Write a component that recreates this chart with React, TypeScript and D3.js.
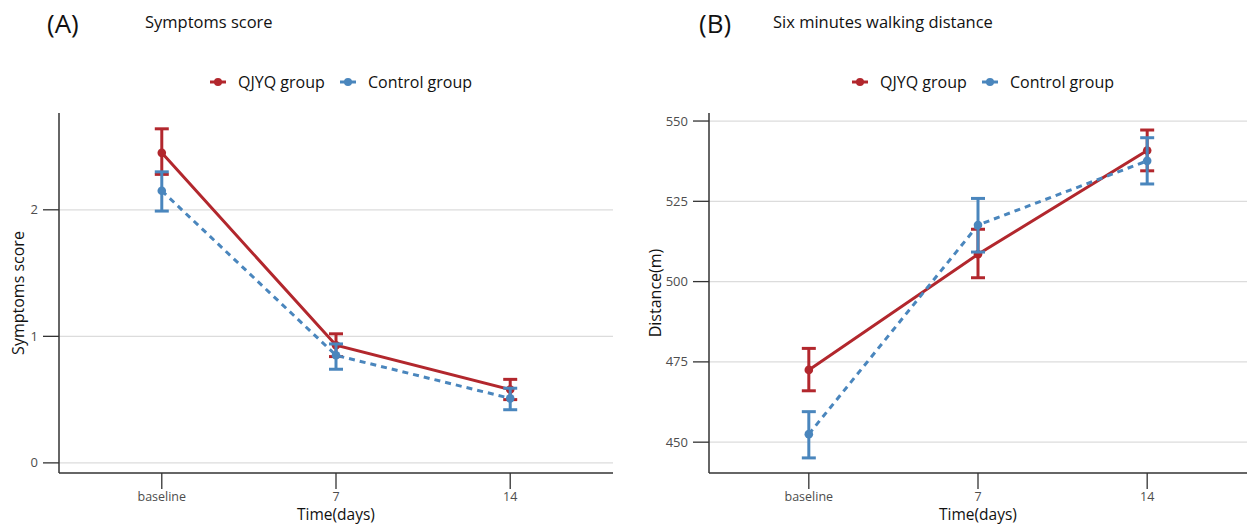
import * as d3 from 'd3';

const timepoints = ['baseline', '7', '14'];

// (A) symptoms score
const scoreQJYQ = [2.45, 0.93, 0.58];
const scoreQJYQLow = [2.28, 0.84, 0.50];
const scoreQJYQHigh = [2.64, 1.02, 0.66];
const scoreCtrl = [2.15, 0.85, 0.51];
const scoreCtrlLow = [1.99, 0.74, 0.42];
const scoreCtrlHigh = [2.30, 0.94, 0.59];
const scoreTicks = [0, 1, 2];

// (B) six minutes walking distance
const distQJYQ = [472.5, 508.5, 540.8];
const distQJYQLow = [466.0, 501.2, 534.5];
const distQJYQHigh = [479.2, 516.3, 547.2];
const distCtrl = [452.5, 517.6, 537.6];
const distCtrlLow = [445.1, 509.2, 530.4];
const distCtrlHigh = [459.5, 525.9, 544.8];
const distTicks = [450, 475, 500, 525, 550];

const groups = ['QJYQ group', 'Control group'];
const RED = '#b2272d';
const BLUE = '#4a86bd';
const FONT = '"Open Sans", sans-serif';

type Series = { mean: number[]; low: number[]; high: number[]; color: string; dashed: boolean };

function Panel(props: {
  left: number; right: number; tag: string; tagX: number; title: string; titleX: number;
  ylab: string; ylabX: number; domain: [number, number]; ticks: number[]; series: Series[];
}) {
  const { left, right, tag, tagX, title, titleX, ylab, ylabX, domain, ticks, series } = props;
  const top = 113, bottom = 473;
  const x = d3.scalePoint<string>().domain(timepoints).range([left, right]).padding(0.59);
  const y = d3.scaleLinear().domain(domain).range([bottom, top]);
  const cx = (left + right) / 2;
  const line = d3.line<number>().x((_, i) => x(timepoints[i])!).y((d) => y(d));

  return (
    <g fontFamily={FONT}>
      <text x={tagX} y={33} fontSize={26} fill="#111">{tag}</text>
      <text x={titleX} y={28} fontSize={16.5} fill="#111">{title}</text>

      {/* legend */}
      {groups.map((g, i) => {
        const mx = cx + (i === 0 ? -118 : 12);
        return (
          <g key={g}>
            <line x1={mx - 8} x2={mx + 8} y1={82} y2={82} stroke={series[i].color} strokeWidth={3} />
            <circle cx={mx} cy={82} r={4} fill={series[i].color} />
            <text x={mx + 20} y={88} fontSize={16} fill="#111">{g}</text>
          </g>
        );
      })}

      {/* grid + y axis */}
      {ticks.map((t) => (
        <g key={t}>
          <line x1={left} x2={right} y1={y(t)} y2={y(t)} stroke="#dcdcdc" strokeWidth={1.2} />
          <line x1={left - 16} x2={left} y1={y(t)} y2={y(t)} stroke="#333" strokeWidth={1.3} />
          <text x={left - 21} y={y(t) + 4.5} textAnchor="end" fontSize={13} fill="#4d4d4d">{t}</text>
        </g>
      ))}
      <line x1={left} x2={left} y1={top} y2={bottom} stroke="#333" strokeWidth={1.5} />
      <line x1={left} x2={right} y1={bottom} y2={bottom} stroke="#333" strokeWidth={1.5} />
      {timepoints.map((t) => (
        <g key={t}>
          <line x1={x(t)} x2={x(t)} y1={bottom} y2={bottom + 16} stroke="#333" strokeWidth={1.3} />
          <text x={x(t)} y={bottom + 28} textAnchor="middle" fontSize={12.5} fill="#4d4d4d">{t}</text>
        </g>
      ))}
      <text x={cx} y={520} textAnchor="middle" fontSize={15.5} fill="#111">Time(days)</text>
      <text transform={`translate(${ylabX},${(top + bottom) / 2}) rotate(-90)`} textAnchor="middle" fontSize={16} fill="#111">{ylab}</text>

      {/* series */}
      {series.map((s, k) => (
        <g key={k}>
          <path d={line(s.mean)!} fill="none" stroke={s.color} strokeWidth={3}
            strokeDasharray={s.dashed ? '6,5' : undefined} />
          {s.mean.map((m, i) => {
            const px = x(timepoints[i])!;
            return (
              <g key={i}>
                <line x1={px} x2={px} y1={y(s.low[i])} y2={y(s.high[i])} stroke={s.color} strokeWidth={3} />
                <line x1={px - 7} x2={px + 7} y1={y(s.low[i])} y2={y(s.low[i])} stroke={s.color} strokeWidth={3} />
                <line x1={px - 7} x2={px + 7} y1={y(s.high[i])} y2={y(s.high[i])} stroke={s.color} strokeWidth={3} />
                <circle cx={px} cy={y(m)} r={4.3} fill={s.color} />
              </g>
            );
          })}
        </g>
      ))}
    </g>
  );
}

export default function App() {
  return (
    <svg width={1247} height={527} style={{ position: 'absolute', left: 0, top: 0, background: '#fff' }}>
      <rect width={1247} height={527} fill="#fff" />
      <Panel left={59} right={613} tag="(A)" tagX={47} title="Symptoms score" titleX={145}
        ylab="Symptoms score" ylabX={24}
        domain={[-0.08, 2.765]} ticks={scoreTicks}
        series={[
          { mean: scoreQJYQ, low: scoreQJYQLow, high: scoreQJYQHigh, color: RED, dashed: false },
          { mean: scoreCtrl, low: scoreCtrlLow, high: scoreCtrlHigh, color: BLUE, dashed: true },
        ]} />
      <Panel left={709} right={1247} tag="(B)" tagX={699} title="Six minutes walking distance" titleX={773}
        ylab="Distance(m)" ylabX={661}
        domain={[440.4, 552.5]} ticks={distTicks}
        series={[
          { mean: distQJYQ, low: distQJYQLow, high: distQJYQHigh, color: RED, dashed: false },
          { mean: distCtrl, low: distCtrlLow, high: distCtrlHigh, color: BLUE, dashed: true },
        ]} />
    </svg>
  );
}
